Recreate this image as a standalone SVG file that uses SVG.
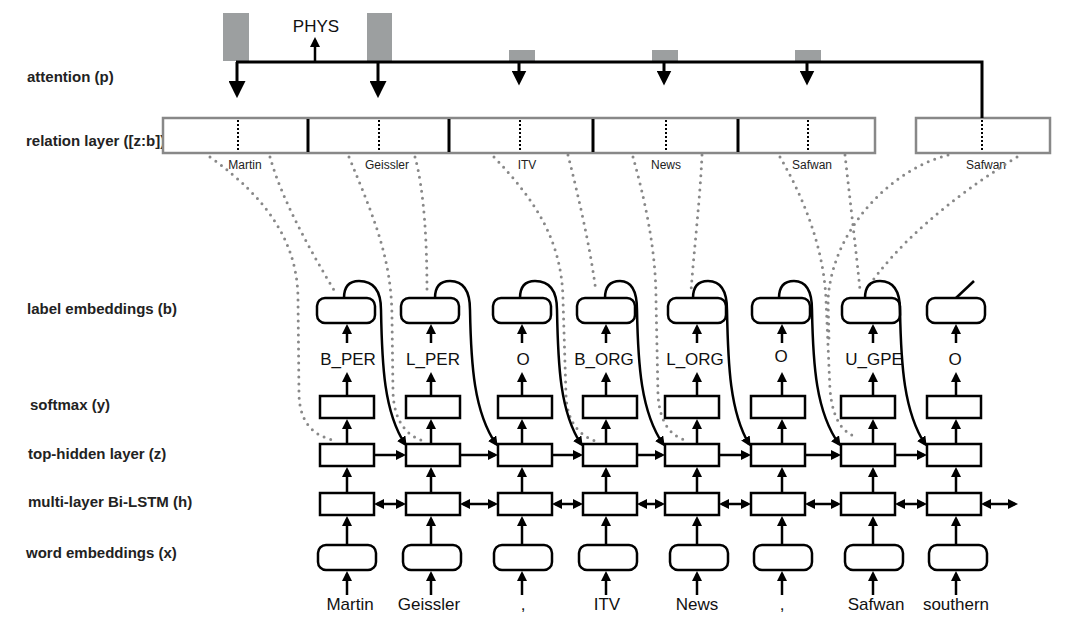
<svg xmlns="http://www.w3.org/2000/svg" width="1077" height="629" viewBox="0 0 1077 629">
<defs>
<style>
.lbl{font-family:"Liberation Sans",Arial,sans-serif;font-size:15px;font-weight:bold;fill:#222}
.tok{font-family:"Liberation Sans",Arial,sans-serif;font-size:17px;fill:#111;text-anchor:middle}
.rel{font-family:"Liberation Sans",Arial,sans-serif;font-size:12px;fill:#222;text-anchor:middle}
.box{fill:#fff;stroke:#000;stroke-width:2.5}
.arr{stroke:#000;stroke-width:2.5;fill:none;marker-end:url(#ah)}
.dbl{stroke:#000;stroke-width:2.5;fill:none;marker-end:url(#ah);marker-start:url(#ah)}
.loop{stroke:#000;stroke-width:2.5;fill:none;marker-end:url(#ah)}
.dot{stroke:#888;stroke-width:3;fill:none;stroke-dasharray:0 7;stroke-linecap:round}
.bar{fill:#9c9fa0}
.div{stroke:#000;stroke-width:3}
.ddiv{stroke:#000;stroke-width:2;stroke-dasharray:2 2}
.rl{fill:#fff;stroke:#888;stroke-width:2.5}
</style>
<marker id="ah" viewBox="0 0 10 10" refX="7" refY="5" markerWidth="10" markerHeight="10" markerUnits="userSpaceOnUse" orient="auto-start-reverse"><path d="M0,0 L10,5 L0,10 z" fill="#000"/></marker>
<marker id="ahBig" viewBox="0 0 10 10" refX="7" refY="5" markerWidth="17" markerHeight="17" markerUnits="userSpaceOnUse" orient="auto"><path d="M0,0 L10,5 L0,10 z" fill="#000"/></marker>
<marker id="ahMid" viewBox="0 0 10 10" refX="7" refY="5" markerWidth="15" markerHeight="15" markerUnits="userSpaceOnUse" orient="auto"><path d="M0,0 L10,5 L0,10 z" fill="#000"/></marker>
</defs>
<rect width="1077" height="629" fill="#fff"/>

<g id="row-labels">
<text class="lbl" x="27" y="82">attention (p)</text>
<text class="lbl" x="26" y="146">relation layer ([z:b])</text>
<text class="lbl" x="27" y="314">label embeddings (b)</text>
<text class="lbl" x="30" y="410">softmax (y)</text>
<text class="lbl" x="28" y="459">top-hidden layer (z)</text>
<text class="lbl" x="28" y="507">multi-layer Bi-LSTM (h)</text>
<text class="lbl" x="26" y="558">word embeddings (x)</text>
</g>

<g id="attention">
<rect class="bar" x="223" y="13" width="26" height="48"/>
<rect class="bar" x="367" y="13" width="25" height="48"/>
<rect class="bar" x="509" y="50" width="26" height="11"/>
<rect class="bar" x="652" y="50" width="26" height="11"/>
<rect class="bar" x="795" y="50" width="26" height="11"/>
<text x="316" y="32" font-family="Liberation Sans, Arial, sans-serif" font-size="17" text-anchor="middle" fill="#111">PHYS</text>
</g>

<g id="relation-layer">
<rect class="rl" x="163" y="118" width="712" height="35"/>
<rect class="rl" x="916" y="118" width="134" height="35"/>
<line class="div" x1="308" y1="119" x2="308" y2="152"/>
<line class="div" x1="449" y1="119" x2="449" y2="152"/>
<line class="div" x1="593" y1="119" x2="593" y2="152"/>
<line class="div" x1="738" y1="119" x2="738" y2="152"/>
<line class="ddiv" x1="238" y1="120" x2="238" y2="152"/>
<line class="ddiv" x1="379" y1="120" x2="379" y2="152"/>
<line class="ddiv" x1="520" y1="120" x2="520" y2="152"/>
<line class="ddiv" x1="666" y1="120" x2="666" y2="152"/>
<line class="ddiv" x1="808" y1="120" x2="808" y2="152"/>
<line class="ddiv" x1="982" y1="120" x2="982" y2="152"/>
<text class="rel" x="245" y="169">Martin</text>
<text class="rel" x="387" y="169">Geissler</text>
<text class="rel" x="527" y="169">ITV</text>
<text class="rel" x="666" y="169">News</text>
<text class="rel" x="812" y="169">Safwan</text>
<text class="rel" x="986" y="169">Safwan</text>
</g>

<g id="label-embeddings">
<rect class="box" x="317" y="298" width="58" height="25" rx="8"/>
<rect class="box" x="401" y="298" width="58" height="25" rx="8"/>
<rect class="box" x="493" y="298" width="58" height="25" rx="8"/>
<rect class="box" x="577" y="298" width="58" height="25" rx="8"/>
<rect class="box" x="668" y="298" width="58" height="25" rx="8"/>
<rect class="box" x="752" y="298" width="58" height="25" rx="8"/>
<rect class="box" x="842" y="298" width="58" height="25" rx="8"/>
<rect class="box" x="927" y="298" width="58" height="25" rx="8"/>
</g>

<g id="labels">
<text class="tok" x="348" y="365">B_PER</text>
<text class="tok" x="433" y="365">L_PER</text>
<text class="tok" x="523" y="365">O</text>
<text class="tok" x="604" y="365">B_ORG</text>
<text class="tok" x="695" y="365">L_ORG</text>
<text class="tok" x="781" y="362">O</text>
<text class="tok" x="874" y="365">U_GPE</text>
<text class="tok" x="955" y="365">O</text>
</g>

<g id="softmax">
<rect class="box" x="320" y="396" width="54" height="22"/>
<rect class="box" x="406" y="396" width="54" height="22"/>
<rect class="box" x="498" y="396" width="54" height="22"/>
<rect class="box" x="583" y="396" width="54" height="22"/>
<rect class="box" x="665" y="396" width="54" height="22"/>
<rect class="box" x="751" y="396" width="54" height="22"/>
<rect class="box" x="841" y="396" width="54" height="22"/>
<rect class="box" x="927" y="396" width="54" height="22"/>
</g>

<g id="top-hidden">
<rect class="box" x="320" y="444" width="54" height="22"/>
<rect class="box" x="406" y="444" width="54" height="22"/>
<rect class="box" x="498" y="444" width="54" height="22"/>
<rect class="box" x="583" y="444" width="54" height="22"/>
<rect class="box" x="665" y="444" width="54" height="22"/>
<rect class="box" x="751" y="444" width="54" height="22"/>
<rect class="box" x="841" y="444" width="54" height="22"/>
<rect class="box" x="927" y="444" width="54" height="22"/>
</g>

<g id="bi-lstm">
<rect class="box" x="320" y="493" width="54" height="22"/>
<rect class="box" x="406" y="493" width="54" height="22"/>
<rect class="box" x="498" y="493" width="54" height="22"/>
<rect class="box" x="583" y="493" width="54" height="22"/>
<rect class="box" x="665" y="493" width="54" height="22"/>
<rect class="box" x="751" y="493" width="54" height="22"/>
<rect class="box" x="841" y="493" width="54" height="22"/>
<rect class="box" x="927" y="493" width="54" height="22"/>
</g>

<g id="word-embeddings">
<rect class="box" x="318" y="545" width="58" height="25" rx="8"/>
<rect class="box" x="403" y="545" width="58" height="25" rx="8"/>
<rect class="box" x="494" y="545" width="58" height="25" rx="8"/>
<rect class="box" x="579" y="545" width="58" height="25" rx="8"/>
<rect class="box" x="670" y="545" width="58" height="25" rx="8"/>
<rect class="box" x="754" y="545" width="58" height="25" rx="8"/>
<rect class="box" x="845" y="545" width="58" height="25" rx="8"/>
<rect class="box" x="929" y="545" width="58" height="25" rx="8"/>
</g>

<g id="words">
<text class="tok" x="350" y="610">Martin</text>
<text class="tok" x="429" y="610">Geissler</text>
<text class="tok" x="523" y="610">,</text>
<text class="tok" x="607" y="610">ITV</text>
<text class="tok" x="697" y="610">News</text>
<text class="tok" x="782" y="610">,</text>
<text class="tok" x="876" y="610">Safwan</text>
<text class="tok" x="956" y="610">southern</text>
</g>

<g id="connectors">
<path d="M236,62 L982,62 L982,118" stroke="#000" stroke-width="3" fill="none"/>
<line x1="315" y1="61" x2="315" y2="40" stroke="#000" stroke-width="2.5" marker-end="url(#ah)"/>
<line x1="237" y1="62" x2="237" y2="93" stroke="#000" stroke-width="3" marker-end="url(#ahBig)"/>
<line x1="378" y1="62" x2="378" y2="93" stroke="#000" stroke-width="3" marker-end="url(#ahBig)"/>
<line x1="519" y1="62" x2="519" y2="81" stroke="#000" stroke-width="3" marker-end="url(#ahMid)"/>
<line x1="664" y1="62" x2="664" y2="81" stroke="#000" stroke-width="3" marker-end="url(#ahMid)"/>
<line x1="807" y1="62" x2="807" y2="81" stroke="#000" stroke-width="3" marker-end="url(#ahMid)"/>

<path class="dot" d="M210,157 C270,200 298,245 298,300 L299,395 C300,425 316,436 333,440"/>
<path class="dot" d="M270,157 C282,200 310,250 334,290"/>
<path class="dot" d="M349,157 C375,220 392,260 392,320 L393,392 C394,422 407,437 427,442"/>
<path class="dot" d="M415,157 C424,190 427,240 427,293"/>
<path class="dot" d="M494,157 C535,200 562,240 563,300 L566,395 C567,425 582,437 598,442"/>
<path class="dot" d="M568,155 C578,195 590,245 596,292"/>
<path class="dot" d="M633,157 C645,200 656,250 656,300 L658,395 C660,425 672,437 688,441"/>
<path class="dot" d="M702,155 C700,200 694,250 691,291"/>
<path class="dot" d="M780,157 C805,200 824,250 826,300 L830,390 C833,420 842,432 858,438"/>
<path class="dot" d="M845,155 C850,200 856,250 860,290"/>
<path class="dot" d="M948,155 C890,170 832,230 828,300 L829,340"/>
<path class="dot" d="M1017,157 Q912,222 866,290"/>

<path class="loop" d="M344,298 C344,285 351,281 359,281 C373,281 381,290 381,310 C382,365 384,412 405,444"/>
<path class="loop" d="M435,298 C435,285 442,281 450,281 C463,281 470,290 470,310 C471,365 474,412 496,444"/>
<path class="loop" d="M520,298 C520,285 527,281 535,281 C549,281 557,290 557,310 C558,365 560,412 581,444"/>
<path class="loop" d="M605,298 C605,285 612,281 620,281 C631,281 637,290 637,310 C638,365 641,412 663,444"/>
<path class="loop" d="M693,298 C693,285 700,281 708,281 C720,281 727,290 727,310 C728,365 730,412 749,444"/>
<path class="loop" d="M779,298 C779,285 786,281 794,281 C806,281 812,290 812,310 C813,365 816,412 839,444"/>
<path class="loop" d="M865,298 C865,285 872,281 880,281 C893,281 900,290 900,310 C901,365 904,412 925,444"/>
<line x1="956" y1="298" x2="974" y2="281" stroke="#000" stroke-width="2.5"/>

<g>
<line class="arr" x1="347" y1="595" x2="347" y2="574"/><line class="arr" x1="347" y1="545" x2="347" y2="519"/><line class="arr" x1="347" y1="493" x2="347" y2="470"/><line class="arr" x1="347" y1="444" x2="347" y2="422"/><line class="arr" x1="347" y1="396" x2="347" y2="375"/><line class="arr" x1="347" y1="343" x2="347" y2="327"/>
<line class="arr" x1="431" y1="595" x2="431" y2="574"/><line class="arr" x1="431" y1="545" x2="431" y2="519"/><line class="arr" x1="431" y1="493" x2="431" y2="470"/><line class="arr" x1="431" y1="444" x2="431" y2="422"/><line class="arr" x1="431" y1="396" x2="431" y2="375"/><line class="arr" x1="431" y1="343" x2="431" y2="327"/>
<line class="arr" x1="522" y1="595" x2="522" y2="574"/><line class="arr" x1="522" y1="545" x2="522" y2="519"/><line class="arr" x1="522" y1="493" x2="522" y2="470"/><line class="arr" x1="522" y1="444" x2="522" y2="422"/><line class="arr" x1="522" y1="396" x2="522" y2="375"/><line class="arr" x1="522" y1="343" x2="522" y2="327"/>
<line class="arr" x1="606" y1="595" x2="606" y2="574"/><line class="arr" x1="606" y1="545" x2="606" y2="519"/><line class="arr" x1="606" y1="493" x2="606" y2="470"/><line class="arr" x1="606" y1="444" x2="606" y2="422"/><line class="arr" x1="606" y1="396" x2="606" y2="375"/><line class="arr" x1="606" y1="343" x2="606" y2="327"/>
<line class="arr" x1="697" y1="595" x2="697" y2="574"/><line class="arr" x1="697" y1="545" x2="697" y2="519"/><line class="arr" x1="697" y1="493" x2="697" y2="470"/><line class="arr" x1="697" y1="444" x2="697" y2="422"/><line class="arr" x1="697" y1="396" x2="697" y2="375"/><line class="arr" x1="697" y1="343" x2="697" y2="327"/>
<line class="arr" x1="782" y1="595" x2="782" y2="574"/><line class="arr" x1="782" y1="545" x2="782" y2="519"/><line class="arr" x1="782" y1="493" x2="782" y2="470"/><line class="arr" x1="782" y1="444" x2="782" y2="422"/><line class="arr" x1="782" y1="396" x2="782" y2="375"/><line class="arr" x1="782" y1="343" x2="782" y2="327"/>
<line class="arr" x1="873" y1="595" x2="873" y2="574"/><line class="arr" x1="873" y1="545" x2="873" y2="519"/><line class="arr" x1="873" y1="493" x2="873" y2="470"/><line class="arr" x1="873" y1="444" x2="873" y2="422"/><line class="arr" x1="873" y1="396" x2="873" y2="375"/><line class="arr" x1="873" y1="343" x2="873" y2="327"/>
<line class="arr" x1="956" y1="595" x2="956" y2="574"/><line class="arr" x1="956" y1="545" x2="956" y2="519"/><line class="arr" x1="956" y1="493" x2="956" y2="470"/><line class="arr" x1="956" y1="444" x2="956" y2="422"/><line class="arr" x1="956" y1="396" x2="956" y2="375"/><line class="arr" x1="956" y1="343" x2="956" y2="327"/>
</g>

<line class="arr" x1="374" y1="455" x2="403" y2="455"/>
<line class="arr" x1="460" y1="455" x2="495" y2="455"/>
<line class="arr" x1="552" y1="455" x2="580" y2="455"/>
<line class="arr" x1="637" y1="455" x2="662" y2="455"/>
<line class="arr" x1="719" y1="455" x2="748" y2="455"/>
<line class="arr" x1="805" y1="455" x2="838" y2="455"/>
<line class="arr" x1="895" y1="455" x2="924" y2="455"/>

<line class="dbl" x1="377" y1="504" x2="403" y2="504"/>
<line class="dbl" x1="463" y1="504" x2="495" y2="504"/>
<line class="dbl" x1="555" y1="504" x2="580" y2="504"/>
<line class="dbl" x1="640" y1="504" x2="662" y2="504"/>
<line class="dbl" x1="722" y1="504" x2="748" y2="504"/>
<line class="dbl" x1="808" y1="504" x2="838" y2="504"/>
<line class="dbl" x1="898" y1="504" x2="924" y2="504"/>
<line class="dbl" x1="984" y1="504" x2="1015" y2="504"/>
</g>
</svg>
